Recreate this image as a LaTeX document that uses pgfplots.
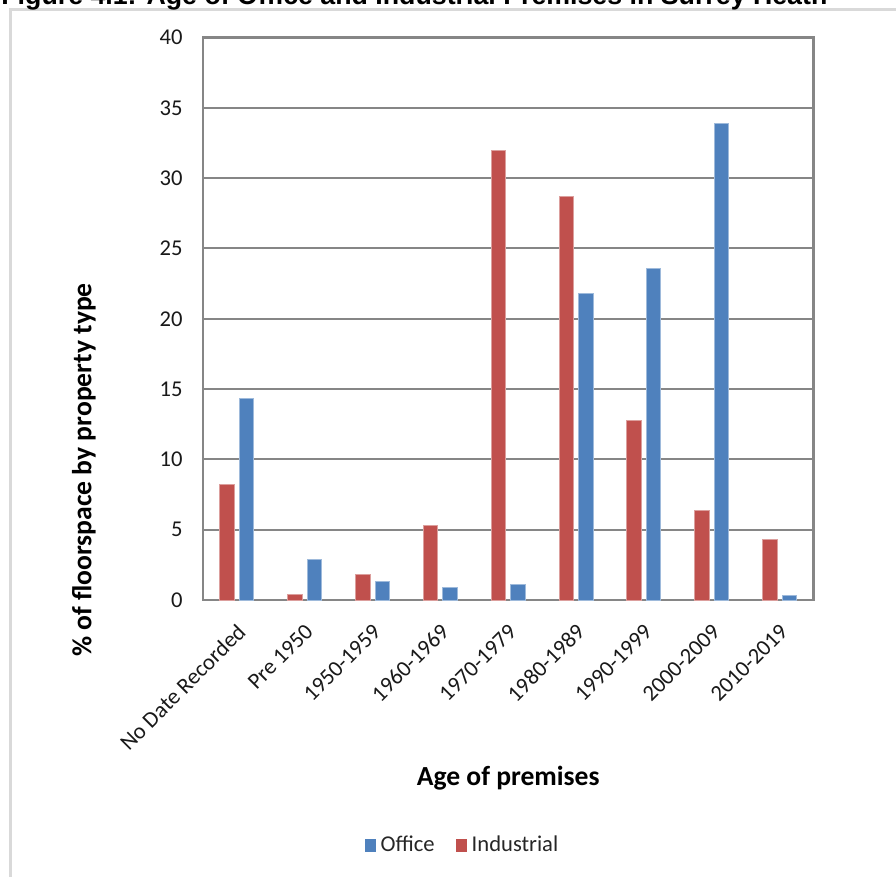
\documentclass[border=0pt]{standalone}
\usepackage{fontspec}
\setmainfont{Carlito}
\newfontfamily\arialfont{Liberation Sans}
\usepackage{pgfplots}
\pgfplotsset{compat=1.18}

\definecolor{officeblue}{HTML}{4F81BD}
\definecolor{industred}{HTML}{C0504D}
\definecolor{framegray}{HTML}{868686}
\definecolor{bordergray}{HTML}{D9D9D9}

\begin{document}
\begin{tikzpicture}
\useasboundingbox (0pt,0pt) rectangle (448pt,-438.5pt);
\clip (0pt,0pt) rectangle (448pt,-438.5pt);

% chart area border and the figure caption above it
\begin{scope}[x=0.5pt,y=-0.5pt]
  \draw[bordergray, line width=1.25pt] (10.5,900) -- (10.5,9.7) -- (910,9.7);
  \node[anchor=base west, inner sep=0pt] at (1,4.5)
    {\resizebox{413pt}{!}{\arialfont\bfseries Figure 4.1: Age of Office and Industrial Premises in Surrey Heath}};
\end{scope}

\begin{axis}[
  at={(101.5pt,-300pt)}, anchor=south west,
  scale only axis, width=305.25pt, height=281.25pt,
  xmin=-0.5, xmax=8.5, ymin=0, ymax=40,
  ytick={0,5,...,40}, xtick={0,...,8},
  xticklabels={No Date Recorded, Pre 1950, 1950-1959, 1960-1969, 1970-1979,
               1980-1989, 1990-1999, 2000-2009, 2010-2019},
  major tick length=0pt,
  ymajorgrids,
  major grid style={framegray, line width=1pt},
  axis line style={framegray, line width=1.4pt},
  /pgf/number format/assume math mode=true,
  tick label style={font=\fontsize{11.3}{13}\selectfont, text=black!90},
  yticklabel style={anchor=east, inner sep=0pt, xshift=-10pt},
  xticklabel style={inner sep=0pt, anchor=north east, xshift=-0.5pt, yshift=-11pt, rotate=45},
  ylabel={\% of floorspace by property type},
  ylabel style={at={(axis description cs:-0.1950,0.2311)}, anchor=center,
                font=\bfseries\fontsize{13.8}{16}\selectfont},
  xlabel={Age of premises},
  xlabel style={at={(axis description cs:0.5,-0.3289)}, anchor=base,
                font=\bfseries\fontsize{13.8}{16}\selectfont},
  ybar, bar width=7.25pt,
  legend columns=2,
  legend style={at={(axis description cs:0.4267,-0.4356)}, anchor=center,
                draw=none, fill=none, font=\fontsize{11.3}{13}\selectfont,
                text=black!85,
                /tikz/every odd column/.append style={column sep=-2pt},
                /tikz/every even column/.append style={column sep=8.5pt}},
  % square key with a little room after it before the entry text
  legend image code/.code={\fill[#1, draw=none] (0pt,-3.25pt) rectangle (5.5pt,3.25pt);
                           \path[draw=none, fill=none] (0pt,0pt) -- (8pt,0pt);},
]
\addplot[fill=officeblue, draw=officeblue!55!white, line width=0.5pt, bar shift=4.9pt]
  coordinates {(0,14.3) (1,2.9) (2,1.3) (3,0.9) (4,1.1) (5,21.8) (6,23.6) (7,33.9) (8,0.3)};
\addplot[fill=industred, draw=industred!55!white, line width=0.5pt, bar shift=-4.9pt]
  coordinates {(0,8.2) (1,0.4) (2,1.8) (3,5.3) (4,32.0) (5,28.7) (6,12.8) (7,6.4) (8,4.3)};
\legend{Office, Industrial}
\end{axis}
\end{tikzpicture}
\end{document}
